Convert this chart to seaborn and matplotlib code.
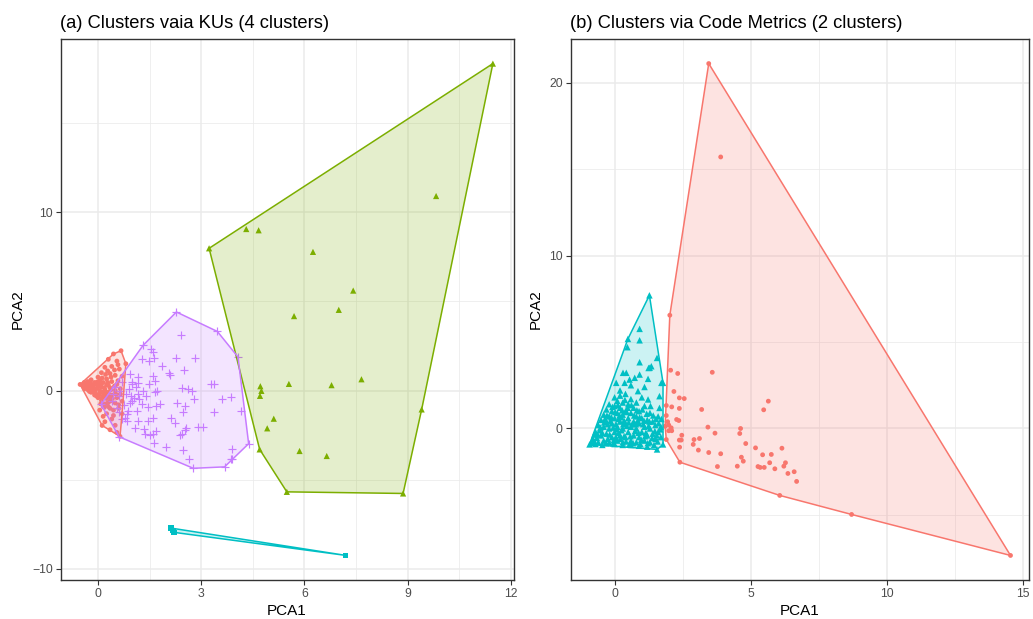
import numpy as np
import pandas as pd
import matplotlib
matplotlib.use("Agg")
import matplotlib.pyplot as plt
from matplotlib.ticker import MultipleLocator
import seaborn as sns

# ---------------- data: panel (a) ----------------
a_red = [(-0.52,0.34),(0.67,2.23),(0.81,1.50),(0.64,-2.57),(0.12,-1.96),
         (0.45,2.05),(0.30,1.75),(0.55,1.65),(0.20,1.30),(0.40,1.35),(0.62,1.20),(0.10,1.00),(0.35,0.95),
         (0.50,0.85),(0.70,0.80),(0.00,0.75),(0.25,0.65),
         (-0.45,0.30),(-0.40,0.45),(-0.35,0.20),(-0.30,0.50),(-0.30,0.05),(-0.25,0.35),(-0.20,-0.10),
         (-0.20,0.60),(-0.15,0.25),(-0.10,0.45),(-0.10,-0.25),(-0.05,0.10),(0.00,-0.40),(0.00,0.35),
         (0.05,0.55),(0.05,-0.15),(0.10,0.20),(0.10,-0.55),(0.15,0.45),(0.15,-0.30),(0.20,0.05),(0.20,-0.75),
         (0.25,0.30),(0.25,-0.45),(0.30,-0.10),(0.30,-0.90),(0.35,0.15),(0.35,-0.60),(0.40,-0.25),(0.40,0.50),
         (0.45,-1.10),(0.50,0.00),(0.50,-0.70),(0.55,0.35),(0.55,-0.40),(0.60,-1.00),(0.65,0.10),(0.65,-0.20),
         (0.70,-0.60),(-0.40,0.10),(-0.35,0.40),(-0.25,-0.05),(-0.15,0.00),(-0.05,-0.30),(0.05,0.00),
         (0.15,-0.10),(0.00,0.20),(-0.20,0.20),(-0.10,0.10),(0.10,0.40),(0.20,-0.30),(0.30,0.30),
         (0.25,-1.30),(0.40,-1.60),(0.20,-1.75),(0.50,-1.95),(0.35,-2.20),(0.55,-2.35),(0.70,-1.30),
         (0.15,-1.45),(0.05,-1.10),(0.45,-1.40),
         (-0.42,0.22),(-0.38,0.32),(-0.32,0.12),(-0.28,0.28),(-0.22,0.42),(-0.18,0.08),(-0.12,0.32),
         (-0.08,-0.12),(-0.02,0.48),(0.02,-0.25),(0.08,0.30),(0.12,-0.40),(0.18,0.15),(0.22,-0.15),
         (0.28,0.45),(0.32,-0.35),(0.38,0.05),(0.42,-0.45),(0.48,0.25),(0.52,-0.20),(0.58,0.55),
         (0.12,0.70),(0.22,0.90),(0.38,0.75),(0.28,1.10),(0.48,1.15),(0.58,1.45),(0.18,-0.95),
         (0.35,-1.00),(0.28,-0.70),(0.08,-0.75),(0.60,-0.80)]
a_green = [(3.23,7.97),(11.48,18.32),(9.41,-1.06),(8.87,-5.77),(5.49,-5.68),(4.70,-3.30),(4.31,9.05),
           (4.67,8.98),(6.25,7.77),(7.42,5.60),(7.00,4.52),(5.70,4.17),(4.72,0.24),(4.75,-0.02),(4.71,-0.30),
           (5.55,0.37),(6.79,0.30),(7.66,0.63),(5.11,-1.58),(4.92,-2.12),(5.86,-3.39),(6.65,-3.67),(9.83,10.90)]
a_cyan = [(2.12,-7.71),(2.21,-7.95),(2.18,-7.84),(7.20,-9.24)]
a_purple = [(2.28,4.40),(3.47,3.31),(4.07,1.88),(4.38,-2.98),(3.89,-3.82),(3.68,-4.28),(2.77,-4.36),
            (0.61,-2.59),(0.09,-0.78),(1.31,2.53),
            (2.41,3.13),(1.54,2.35),(1.60,2.16),(1.29,1.79),(1.49,1.64),(1.62,1.82),(2.28,1.82),(2.81,1.82),
            (1.85,1.36),(2.50,1.14),(2.09,0.89),(2.06,0.99),(0.93,0.95),(1.17,0.74),(1.60,0.84),(1.67,0.56),
            (1.15,0.41),(0.98,0.37),(1.49,0.34),(3.29,0.34),(3.37,0.34),(2.43,0.15),(2.62,0.06),(2.74,0.00),
            (1.72,0.00),(1.67,-0.09),(3.86,-0.37),(3.60,-0.50),(2.78,-0.50),(2.31,-0.69),(2.52,-0.88),
            (2.47,-1.19),(3.37,-1.19),(4.16,-1.15),(1.80,-0.78),(1.70,-0.88),(1.46,-0.93),(1.27,-0.78),
            (1.05,-0.41),(1.17,-0.22),(0.93,-0.69),(0.88,-1.15),(1.12,-1.15),(2.12,-1.53),(2.23,-1.81),
            (1.60,-1.53),(1.46,-1.71),(1.17,-1.71),(1.07,-2.12),(0.83,-1.71),(0.78,-1.53),(2.91,-2.05),
            (3.05,-2.05),(2.57,-2.09),(2.52,-2.23),(2.38,-2.50),(2.43,-2.46),(1.68,-2.27),(1.60,-2.42),
            (1.36,-2.46),(1.34,-2.18),(1.51,-2.50),(1.97,-3.17),(1.63,-2.92),(2.47,-3.35),(2.64,-3.82),
            (3.89,-3.30),(3.86,-3.82),
            (0.50,0.20),(0.60,-0.30),(0.70,0.50),(0.40,-0.60),(0.80,-0.20),(0.90,0.10),(0.55,-1.00),
            (0.75,-0.80),(0.65,0.00),(1.00,-0.60),(0.85,-1.30),(0.45,-0.20),(1.10,0.20),(0.95,-0.30),
            (0.70,-1.60),(0.60,-1.20),(1.20,-0.50),(1.30,0.00),(1.40,-0.30),(1.00,0.50)]

# ---------------- data: panel (b) ----------------
b_red = [(3.46,21.10),(14.55,-7.34),(2.03,6.55),(1.86,0.13),(1.90,-0.64),(2.40,-1.95),(6.07,-3.87),
         (8.71,-4.97),(3.90,15.70),(2.06,3.37),(2.32,3.18),(3.59,3.25),(2.18,2.14),(2.38,1.77),(2.56,1.73),
         (2.10,1.25),(2.38,1.16),(3.20,1.10),(1.90,1.33),(1.90,0.75),(2.28,0.52),(2.36,0.46),(1.95,0.39),
         (1.99,0.20),(2.08,0.04),(1.99,-0.13),(2.10,-0.13),(3.43,0.08),(4.63,0.00),(4.60,-0.29),(3.69,-0.27),
         (2.47,-0.39),(2.38,-0.67),(2.45,-0.67),(2.92,-0.64),(3.12,-0.58),(2.89,-0.92),(2.39,-1.08),
         (3.08,-1.25),(3.46,-1.39),(3.90,-1.46),(4.82,-0.87),(5.18,-1.12),(5.44,-1.52),(5.76,-1.50),
         (6.15,-1.14),(5.65,1.58),(5.48,1.08),(4.66,-1.66),(4.73,-1.89),(4.51,-2.18),(3.78,-2.20),
         (5.27,-2.20),(5.35,-2.25),(5.50,-2.25),(5.70,-1.98),(5.89,-2.33),(6.22,-2.18),(6.28,-1.98),
         (6.37,-2.60),(6.69,-3.06),(6.60,-2.50)]
b_cyan = [(1.28,7.70),(0.49,5.18),(-0.74,-0.35),(-0.92,-0.92),(1.56,-1.21),(1.78,-0.92),(1.78,2.64),
          (0.92,5.76),(0.92,5.10),(0.47,4.70),(0.92,3.83),(1.25,3.50),(1.56,4.08),(1.35,3.60),(0.31,3.22),
          (0.43,3.22),(0.92,3.12),(0.55,2.83),(0.74,2.93),(1.23,2.87),(1.29,3.51),(0.06,2.64),(0.37,2.64),
          (1.72,2.64),(0.86,2.16),(1.23,1.68),(1.65,1.87),(1.65,1.19),(1.10,2.40),(0.20,2.20),(0.60,2.50),
          (-0.80,-0.60),(-0.70,-0.20),(-0.60,-0.80),(-0.60,0.20),(-0.50,-0.40),(-0.50,0.50),(-0.40,-0.70),
          (-0.40,0.10),(-0.40,0.80),(-0.30,-0.30),(-0.30,0.40),(-0.30,1.10),(-0.20,-0.80),(-0.20,0.00),
          (-0.20,0.70),(-0.20,1.40),(-0.10,-0.50),(-0.10,0.30),(-0.10,1.00),(0.00,-0.20),(0.00,0.60),
          (0.00,1.30),(0.00,1.80),(0.10,-0.70),(0.10,0.10),(0.10,0.90),(0.10,1.60),(0.20,-0.40),(0.20,0.40),
          (0.20,1.20),(0.20,1.90),(0.30,-0.80),(0.30,0.00),(0.30,0.80),(0.30,1.50),(0.40,-0.50),(0.40,0.30),
          (0.40,1.00),(0.40,2.00),(0.50,-0.20),(0.50,0.60),(0.50,1.40),(0.60,-0.70),(0.60,0.10),(0.60,0.90),
          (0.60,1.70),(0.70,-0.40),(0.70,0.40),(0.70,1.20),(0.80,-0.80),(0.80,0.00),(0.80,0.70),(0.80,1.50),
          (0.90,-0.50),(0.90,0.30),(0.90,1.00),(1.00,-0.20),(1.00,0.60),(1.00,1.80),(1.10,-0.70),(1.10,0.10),
          (1.10,1.30),(1.20,-0.40),(1.20,0.50),(1.30,-0.80),(1.30,0.00),(1.30,0.90),(1.40,-0.30),(1.40,0.40),
          (1.50,-0.60),(1.50,0.20),(1.60,-0.20),(1.60,0.70),(1.70,-0.50),(1.70,0.10),
          (-0.85,-0.85),(-0.65,-0.55),(-0.55,-0.10),(-0.45,-0.95),(-0.35,0.55),(-0.25,-0.60),(-0.15,0.45),
          (-0.05,-0.85),(0.05,0.25),(0.15,-0.25),(0.25,0.65),(0.35,-0.45),(0.45,0.95),(0.55,-0.90),
          (0.65,0.25),(0.75,-0.15),(0.85,0.45),(0.95,-0.90),(1.05,0.25),(1.15,-0.25),(1.25,0.15),
          (1.45,-0.95),(1.55,-0.40),(0.15,0.55),(-0.05,0.05),(0.25,-0.10),(0.45,0.15),(0.05,-0.50),
          (-0.25,0.25),(0.35,0.45),
          (-0.75,-0.75),(-0.62,-0.35),(-0.52,0.05),(-0.45,-0.25),(-0.38,0.35),(-0.32,-0.85),(-0.28,0.75),
          (-0.18,-0.35),(-0.12,0.65),(-0.08,1.25),(-0.02,-0.65),(0.02,0.95),(0.08,-0.05),(0.12,1.35),
          (0.18,0.75),(0.22,-0.60),(0.28,1.05),(0.32,0.25),(0.38,1.65),(0.42,-0.75),(0.48,1.20),
          (0.52,0.35),(0.58,-0.45),(0.62,1.35),(0.68,-0.85),(0.72,0.75),(0.78,0.25),(0.82,1.05),
          (0.88,-0.25),(0.92,0.65),(0.98,-0.65),(1.02,1.10),(1.08,0.45),(1.12,-0.45),(1.18,0.85),
          (1.22,-0.85),(1.28,0.40),(1.32,1.30),(1.38,-0.55),(1.42,0.75),(1.48,-0.15),(1.52,0.55),
          (1.58,-0.75),(1.62,0.30),(1.68,-0.05),(1.72,0.55),(-0.70,-0.90),(0.00,-0.90),(0.60,-0.95),
          (1.20,-1.05),(0.30,-0.95),(0.90,-1.00)]

titles = ["(a) Clusters vaia KUs (4 clusters)", "(b) Clusters via Code Metrics (2 clusters)"]
x_ticks_a = [0, 3, 6, 9, 12]
y_ticks_a = [-10, 0, 10]
x_ticks_b = [0, 5, 10, 15]
y_ticks_b = [0, 10, 20]

RED, GREEN, CYAN, PURPLE = "#F8766D", "#7CAE00", "#00BFC4", "#C77CFF"


def hull(points):
    pts = sorted(set(points))
    if len(pts) < 3:
        return pts
    def cross(o, a, b):
        return (a[0]-o[0])*(b[1]-o[1]) - (a[1]-o[1])*(b[0]-o[0])
    lower, upper = [], []
    for p in pts:
        while len(lower) >= 2 and cross(lower[-2], lower[-1], p) <= 0:
            lower.pop()
        lower.append(p)
    for p in reversed(pts):
        while len(upper) >= 2 and cross(upper[-2], upper[-1], p) <= 0:
            upper.pop()
        upper.append(p)
    return lower[:-1] + upper[:-1]


sns.set_style("white")
plt.rcParams["font.family"] = ["Liberation Sans", "DejaVu Sans"]

fig = plt.figure(figsize=(10.33, 6.19), dpi=100)
ax1 = fig.add_axes([60.5/1033, 39/619, 453/1033, 541/619])
ax2 = fig.add_axes([570.5/1033, 39/619, 458.5/1033, 541/619])


def draw(ax, groups):
    for pts, color, marker, size, lw in groups:
        df = pd.DataFrame(pts, columns=["PCA1", "PCA2"])
        if marker == "+":
            sns.scatterplot(data=df, x="PCA1", y="PCA2", ax=ax, color=color, marker="+",
                            s=size, linewidth=lw, legend=False, zorder=3)
        else:
            sns.scatterplot(data=df, x="PCA1", y="PCA2", ax=ax, color=color, marker=marker,
                            s=size, linewidth=0, edgecolor="none", legend=False, zorder=3)
    for pts, color, marker, size, lw in groups:
        h = hull(pts)
        hx = [p[0] for p in h] + [h[0][0]]
        hy = [p[1] for p in h] + [h[0][1]]
        ax.fill(hx, hy, color=color, alpha=0.2, lw=0, zorder=4)
        ax.plot(hx, hy, color=color, lw=1.1, zorder=5, solid_joinstyle="round")


draw(ax1, [(a_red, RED, "o", 12, 0), (a_green, GREEN, "^", 20, 0),
           (a_cyan, CYAN, "s", 14, 0), (a_purple, PURPLE, "+", 36, 0.85)])
draw(ax2, [(b_red, RED, "o", 12, 0), (b_cyan, CYAN, "^", 22, 0)])


def style(ax, title, xt, yt, xminor, yminor, xlim, ylim):
    ax.set_xlim(*xlim)
    ax.set_ylim(*ylim)
    ax.set_xticks(xt)
    ax.set_yticks(yt)
    ax.xaxis.set_minor_locator(MultipleLocator(xminor))
    ax.yaxis.set_minor_locator(MultipleLocator(yminor))
    ax.grid(which="major", color="#EBEBEB", lw=1.1)
    ax.grid(which="minor", color="#EBEBEB", lw=0.55)
    ax.set_axisbelow(True)
    ax.tick_params(which="major", direction="out", length=3.5, width=0.8, color="#333333",
                   labelsize=8.8, labelcolor="#4D4D4D", pad=2, bottom=True, left=True)
    ax.tick_params(which="minor", length=0, bottom=False, left=False)
    for s in ax.spines.values():
        s.set_color("#333333")
        s.set_linewidth(1.0)
        s.set_visible(True)
    ax.set_xlabel("PCA1", fontsize=11, color="black", labelpad=3)
    ax.set_ylabel("PCA2", fontsize=11, color="black", labelpad=5)
    ax.set_title(title, loc="left", fontsize=13.2, color="black", pad=8)


style(ax1, titles[0], x_ticks_a, y_ticks_a, 1.5, 5, (-1.09, 12.08), (-10.62, 19.70))
style(ax2, titles[1], x_ticks_b, y_ticks_b, 2.5, 5, (-1.62, 15.23), (-8.76, 22.52))

fig.savefig("out.png", dpi=100)
